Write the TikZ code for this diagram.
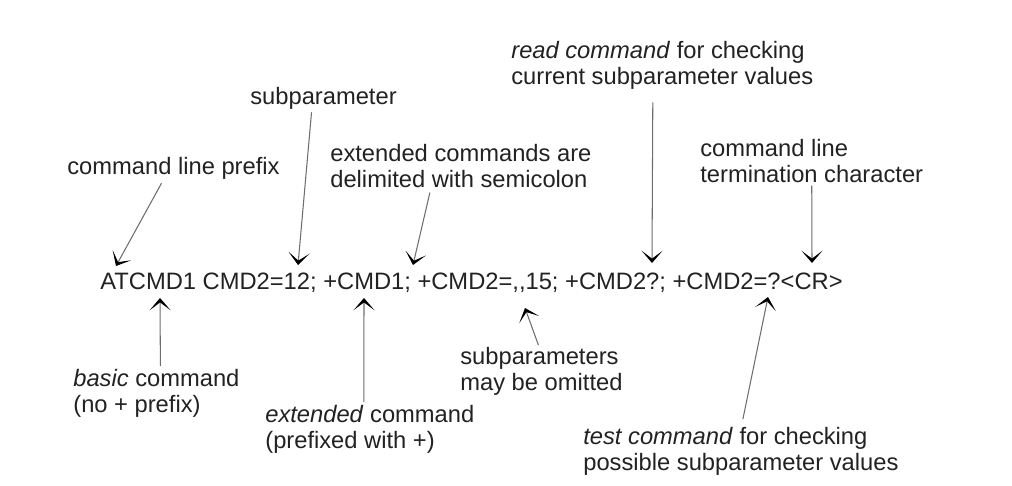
\documentclass[tikz,border=0pt]{standalone}
\usepackage{fontspec}
\setmainfont{Liberation Sans}
\usepackage{tikz}
\usetikzlibrary{arrows.meta, calc}
\definecolor{inkgray}{HTML}{222222}
\definecolor{wiregray}{HTML}{6e6e6e}

\begin{document}
\begin{tikzpicture}[x=0.02cm, y=-0.02cm,
  note/.style={
    anchor=base west, inner sep=0pt, align=left,
    font=\fontsize{13.5}{15}\selectfont, text=inkgray
  },
  pointer/.style={-{Stealth[length=7pt, width=12pt, inset=4.5pt, color=black]},
    wiregray, line width=0.6pt}
]

\fill[white] (0,0) rectangle (1012,486);
\useasboundingbox (0,0) rectangle (1012,486);

\node[note] (cmdline) at (100,290) {ATCMD1 CMD2=12; +CMD1; +CMD2=,{},15; +CMD2?; +CMD2=?<CR>};

\node[note] (prefix) at (67,175) {command line prefix};
\node[note] (subpar) at (250,105) {subparameter};
\node[note] (delim) at (330,188) {extended commands are\\delimited with semicolon};
\node[note] (readcmd) at (511,85) {\textit{read command} for checking\\current subparameter values};
\node[note] (term) at (700,183) {command line\\termination character};
\node[note] (basic) at (73,413) {\textit{basic} command\\(no + prefix)};
\node[note] (extcmd) at (265,449) {\textit{extended} command\\(prefixed with +)};
\node[note] (omit) at (460,391) {subparameters\\may be omitted};
\node[note] (testcmd) at (583,471) {\textit{test command} for checking\\possible subparameter values};

\coordinate (atA) at (116,266);
\coordinate (atTwelve) at (298,265);
\coordinate (atSemi) at (413,265);
\coordinate (atQuery) at (652,263);
\coordinate (atCR) at (812,263);
\coordinate (atBasic) at (160,298);
\coordinate (atPlus) at (364,298);
\coordinate (atCommas) at (525,308);
\coordinate (atTest) at (768,297);

\draw[pointer] ($(prefix.south)+(-12,3)$) -- (atA);
\draw[pointer] ($(subpar.south)+(-12,2)$) -- (atTwelve);
\draw[pointer] ($(delim.south)+(-31,4)$) -- (atSemi);
\draw[pointer] ($(readcmd.south)+(-9.5,12)$) -- (atQuery);
\draw[pointer] ($(term.south)+(0,2)$) -- (atCR);
\draw[pointer] ($(basic.north)+(4,-3)$) -- (atBasic);
\draw[pointer] ($(extcmd.north)+(-6,-3)$) -- (atPlus);
\draw[pointer] ($(omit.north)+(-3,-2)$) -- (atCommas);
\draw[pointer] ($(testcmd.north)+(2,-8)$) -- (atTest);

\end{tikzpicture}
\end{document}
